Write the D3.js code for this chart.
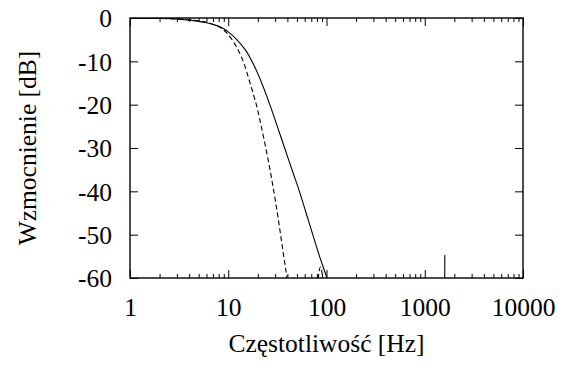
<!DOCTYPE html>
<html>
<head>
<meta charset="utf-8">
<script src="https://cdn.jsdelivr.net/npm/d3@7"></script>
<style>
  body { margin: 0; background: #fff; }
  text { font-family: "Liberation Serif", "DejaVu Serif", serif; fill: #000; }
</style>
</head>
<body>
<div id="chart"></div>
<script>
// frequency [Hz] / gain [dB]
const freqSolid = [1, 2, 3, 4, 5, 6, 7, 8, 9, 10, 12, 15, 18, 22, 26.5, 32, 37.5, 45, 53, 62, 72.5, 85, 101, 120, 200, 500, 1000, 1500, 1590, 1600, 1610, 2000, 5000, 10000];
const gainSolid = [0, -0.1, -0.2, -0.5, -0.8, -1.1, -1.5, -1.9, -2.5, -3.2, -4.8, -7.4, -10.6, -15.1, -20, -25.4, -30, -35.3, -40, -45, -50, -55, -60, -65.5, -82, -110, -130, -140, -75, -54.7, -75, -140, -170, -190];

const freqDashed = [1, 2, 4, 6, 8, 9, 10, 12, 14.2, 16.5, 19.3, 21.5, 24.1, 26.5, 29.1, 31.5, 34.1, 36.7, 39.5, 45, 60, 72, 79, 87, 95, 110, 200, 1000, 10000];
const gainDashed = [0, -0.1, -0.4, -1.0, -2.0, -2.8, -3.8, -6.5, -10, -14.7, -20, -24.6, -30, -34.8, -40, -44.8, -50, -55, -60, -75, -90, -78, -64, -57.4, -64, -85, -110, -150, -200];

const xMajor = [1, 10, 100, 1000, 10000];
const yMajor = [0, -10, -20, -30, -40, -50, -60];

const W = 568, H = 367;
const margin = {top: 18, right: 45, bottom: 89, left: 130};
const font = 25.5;

const svg = d3.select('#chart').append('svg')
  .attr('width', W)
  .attr('height', H);

const x = d3.scaleLog().domain([1, 10000]).range([margin.left, W - margin.right]);
const y = d3.scaleLinear().domain([-60, 0]).range([H - margin.bottom, margin.top]);

// minor ticks 2..9 of every decade
const xMinor = [];
for (let d = 1; d < 10000; d *= 10) {
  for (let k = 2; k <= 9; k++) xMinor.push(d * k);
}

// bottom axis with labels
svg.append('g')
  .attr('transform', 'translate(0,' + y(-60) + ')')
  .call(d3.axisBottom(x).tickValues(xMajor).tickFormat(d => String(d)).tickSize(-8))
  .call(g => g.select('.domain').remove())
  .call(g => g.selectAll('text').attr('y', 38).attr('dy', null)
    .style('font-size', font + 'px'));

svg.append('g')
  .attr('transform', 'translate(0,' + y(-60) + ')')
  .call(d3.axisBottom(x).tickValues(xMinor).tickFormat('').tickSize(-4))
  .call(g => g.select('.domain').remove());

// mirrored top ticks
svg.append('g')
  .attr('transform', 'translate(0,' + y(0) + ')')
  .call(d3.axisTop(x).tickValues(xMajor).tickFormat('').tickSize(-8))
  .call(g => g.select('.domain').remove());

svg.append('g')
  .attr('transform', 'translate(0,' + y(0) + ')')
  .call(d3.axisTop(x).tickValues(xMinor).tickFormat('').tickSize(-4))
  .call(g => g.select('.domain').remove());

// left axis with labels
svg.append('g')
  .attr('transform', 'translate(' + x(1) + ',0)')
  .call(d3.axisLeft(y).tickValues(yMajor).tickFormat(d => String(d)).tickSize(-8).tickPadding(18))
  .call(g => g.select('.domain').remove())
  .call(g => g.selectAll('text').attr('dy', '0.34em')
    .style('font-size', font + 'px'));

svg.append('g')
  .attr('transform', 'translate(' + x(10000) + ',0)')
  .call(d3.axisRight(y).tickValues(yMajor).tickFormat('').tickSize(-8))
  .call(g => g.select('.domain').remove());

svg.selectAll('g').attr('font-family', null);
svg.selectAll('.tick line').attr('stroke', '#000').attr('stroke-width', 1);

// clip for the curves
svg.append('clipPath').attr('id', 'plotclip')
  .append('rect')
  .attr('x', x(1)).attr('y', y(0))
  .attr('width', x(10000) - x(1))
  .attr('height', y(-60) - y(0));

const line = d3.line()
  .x(d => x(d[0]))
  .y(d => y(d[1]))
  .curve(d3.curveCatmullRom.alpha(0.5));

svg.append('path')
  .datum(freqSolid.map((f, i) => [f, gainSolid[i]]))
  .attr('clip-path', 'url(#plotclip)')
  .attr('fill', 'none')
  .attr('stroke', '#000')
  .attr('stroke-width', 1.1)
  .attr('d', line);

svg.append('path')
  .datum(freqDashed.map((f, i) => [f, gainDashed[i]]))
  .attr('clip-path', 'url(#plotclip)')
  .attr('fill', 'none')
  .attr('stroke', '#000')
  .attr('stroke-width', 1.1)
  .attr('stroke-dasharray', '5,3')
  .attr('d', line);

// frame
svg.append('rect')
  .attr('x', x(1)).attr('y', y(0))
  .attr('width', x(10000) - x(1))
  .attr('height', y(-60) - y(0))
  .attr('fill', 'none')
  .attr('stroke', '#000')
  .attr('stroke-width', 1.4);

// axis titles
svg.append('text')
  .attr('x', (x(1) + x(10000)) / 2)
  .attr('y', 352)
  .attr('text-anchor', 'middle')
  .style('font-size', font + 'px')
  .text('Częstotliwość [Hz]');

svg.append('text')
  .attr('transform', 'translate(36,' + (y(0) + y(-60)) / 2 + ') rotate(-90)')
  .attr('text-anchor', 'middle')
  .style('font-size', font + 'px')
  .text('Wzmocnienie [dB]');
</script>
</body>
</html>
